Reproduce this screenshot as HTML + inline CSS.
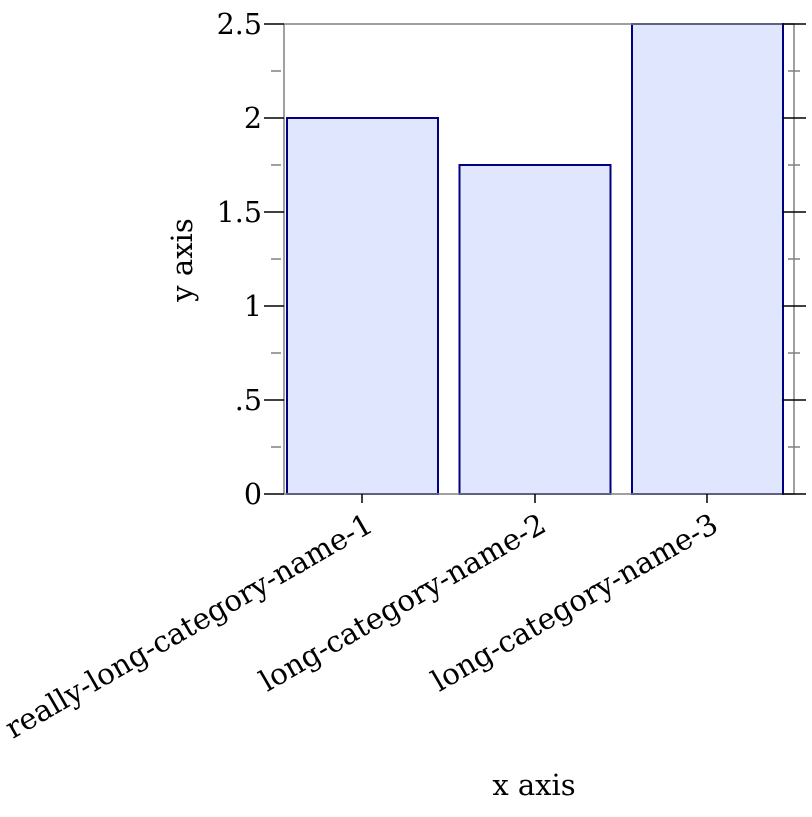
<!DOCTYPE html>
<html><head><style>body{margin:0;background:#fff}</style></head><body>
<svg width="812" height="812" xmlns="http://www.w3.org/2000/svg" font-family="DejaVu Serif, Liberation Serif, serif">
<rect x="0" y="0" width="812" height="812" fill="#fff"/>
<g fill="#e0e6fd" stroke="#000080" stroke-width="2">
<rect x="287" y="118" width="151" height="376"/>
<rect x="459.5" y="165" width="151" height="329"/>
<rect x="632" y="24" width="151" height="470"/>
</g>
<rect x="284" y="24" width="510" height="470" fill="none" stroke="#808080" stroke-width="1.5"/>
<g stroke="#000" stroke-width="1.5">
<line x1="264" y1="24" x2="284" y2="24"/><line x1="264" y1="118" x2="284" y2="118"/><line x1="264" y1="212" x2="284" y2="212"/><line x1="264" y1="306" x2="284" y2="306"/><line x1="264" y1="400" x2="284" y2="400"/><line x1="264" y1="494" x2="284" y2="494"/>
<line x1="782" y1="24" x2="806" y2="24"/><line x1="782" y1="118" x2="806" y2="118"/><line x1="782" y1="212" x2="806" y2="212"/><line x1="782" y1="306" x2="806" y2="306"/><line x1="782" y1="400" x2="806" y2="400"/><line x1="782" y1="494" x2="806" y2="494"/>
<line x1="362" y1="494" x2="362" y2="503"/><line x1="535" y1="494" x2="535" y2="503"/><line x1="707" y1="494" x2="707" y2="503"/>
</g>
<g stroke="#808080" stroke-width="1.5">
<line x1="271" y1="71" x2="281" y2="71"/><line x1="271" y1="165" x2="281" y2="165"/><line x1="271" y1="259" x2="281" y2="259"/><line x1="271" y1="353" x2="281" y2="353"/><line x1="271" y1="447" x2="281" y2="447"/>
<line x1="788" y1="71" x2="800" y2="71"/><line x1="788" y1="165" x2="800" y2="165"/><line x1="788" y1="259" x2="800" y2="259"/><line x1="788" y1="353" x2="800" y2="353"/><line x1="788" y1="447" x2="800" y2="447"/>
</g>
<g font-size="28.5" text-anchor="end" fill="#000">
<text x="262" y="34">2.5</text><text x="262" y="128">2</text><text x="262" y="222">1.5</text><text x="262" y="316">1</text><text x="262" y="410">.5</text><text x="262" y="504">0</text>
</g>
<g font-size="29.3" text-anchor="end" fill="#000">
<text transform="translate(375,530) rotate(-30)">really-long-category-name-1</text>
<text transform="translate(548,530) rotate(-30)">long-category-name-2</text>
<text transform="translate(720,530) rotate(-30)">long-category-name-3</text>
</g>
<text x="534" y="795" font-size="29" text-anchor="middle">x axis</text>
<text transform="translate(192,260) rotate(-90)" font-size="29" text-anchor="middle">y axis</text>
</svg>
</body></html>
